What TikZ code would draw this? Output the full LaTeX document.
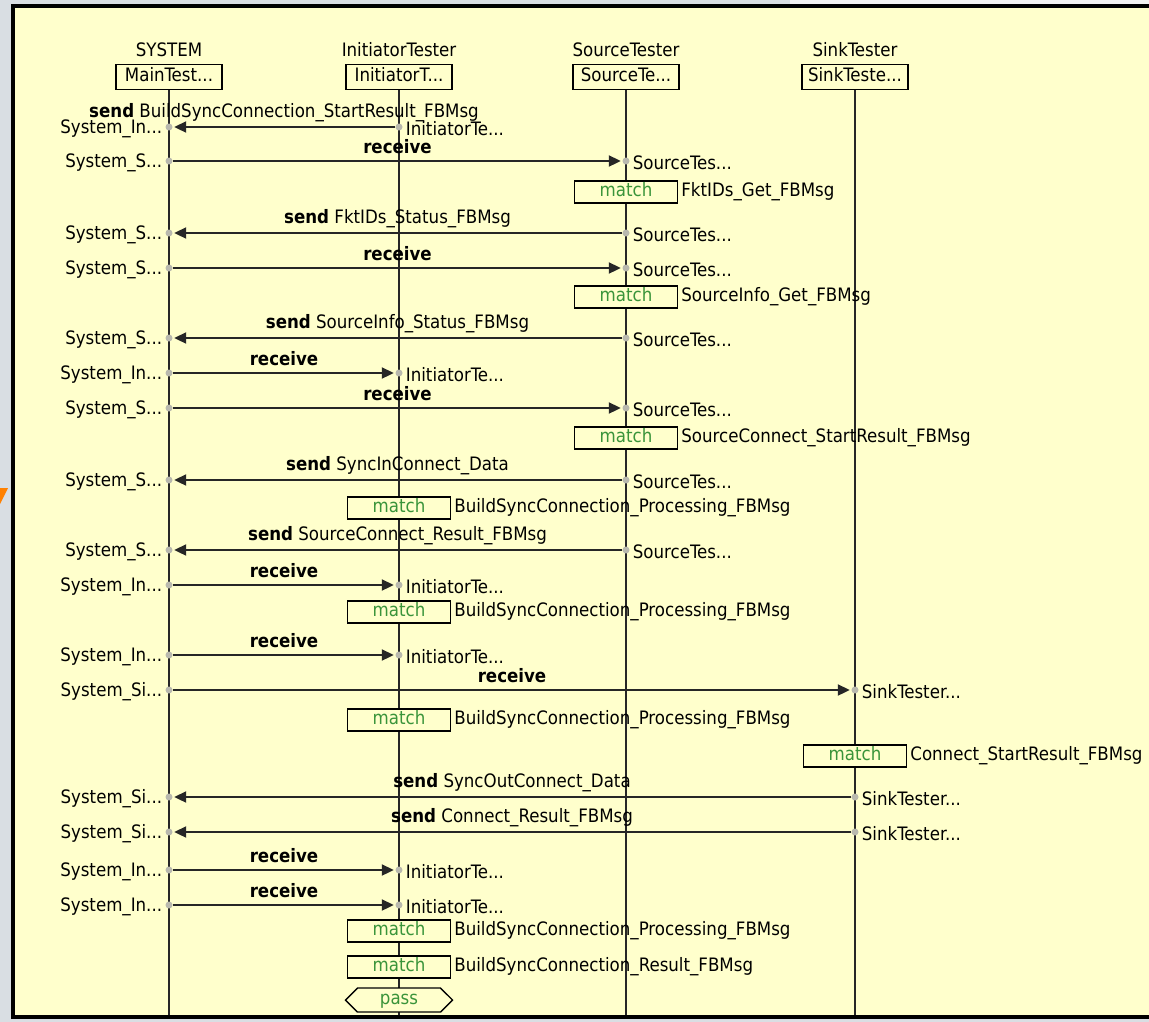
\documentclass[tikz,border=0pt]{standalone}
\usepackage{fontspec}
\setmainfont{DejaVu Sans Condensed}
\usetikzlibrary{arrows.meta,positioning,shapes.symbols}

\definecolor{paper}{HTML}{FFFFCC}
\definecolor{frame}{HTML}{D9DEE3}
\definecolor{matchgreen}{HTML}{3A943A}
\definecolor{dotgrey}{HTML}{B9B9AE}

\begin{document}
\begin{tikzpicture}[x=1pt, y=-1pt,
  lbl/.style={font=\fontsize{18.5}{20}\selectfont, inner sep=0pt, text height=13pt, text depth=4pt},
  head/.style={lbl, draw, fill=paper, line width=1.3pt, minimum width=106pt, minimum height=25pt, inner sep=2pt},
  life/.style={line width=1.7pt, draw=black!85},
  dot/.style={circle, fill=dotgrey, inner sep=0pt, minimum size=7pt},
  msg/.style={line width=2pt, draw=black!85, -{Triangle[length=12pt,width=11pt]}, shorten >=1.5pt},
  matchbox/.style={lbl, draw, fill=paper, line width=1.4pt, text=matchgreen, minimum width=103pt, minimum height=22pt},
  passbox/.style={lbl, signal, signal to=west and east, draw, fill=paper, line width=1.4pt, text=matchgreen, minimum width=107pt, minimum height=24pt}]

\useasboundingbox (0,0) rectangle (1149,1021);

% window frame
\fill[frame] (-5,-5) rectangle (1160,1030);
\fill[black!5] (790,-5) rectangle (1160,4);
\fill[paper] (13,6) rectangle (1160,1017);
\draw[line width=4pt] (13,1019) -- (13,4);
\draw[line width=4pt] (11,6) -- (1160,6);
\draw[line width=4pt] (11,1017) -- (1160,1017);
\fill[orange] (0,488) -- (8,488) -- (0,504) -- cycle;

% instances
\node[lbl] (sysName) at (169,52) {SYSTEM};
\node[lbl] (iniName) at (399,52) {InitiatorTester};
\node[lbl] (srcName) at (626,52) {SourceTester};
\node[lbl] (snkName) at (855,52) {SinkTester};

\node[head] (sys) at (169,77) {MainTest...};
\node[head] (ini) at (399,77) {InitiatorT...};
\node[head] (src) at (626,77) {SourceTe...};
\node[head] (snk) at (855,77) {SinkTeste...};

\coordinate (sysEnd) at (169,1015);
\coordinate (iniEnd) at (399,1015);
\coordinate (srcEnd) at (626,1015);
\coordinate (snkEnd) at (855,1015);

\draw[life] (sys) -- (sysEnd);
\draw[life] (ini) -- (iniEnd);
\draw[life] (src) -- (srcEnd);
\draw[life] (snk) -- (snkEnd);

% send messages (towards SYSTEM)
\foreach \n/\y/\x/\sl/\ol/\txt in {
  1/127/399/In/InitiatorTe/BuildSyncConnection\_StartResult\_FBMsg,
  4/233/626/S/SourceTes/FktIDs\_Status\_FBMsg,
  7/338/626/S/SourceTes/SourceInfo\_Status\_FBMsg,
  11/480/626/S/SourceTes/SyncInConnect\_Data,
  13/550/626/S/SourceTes/SourceConnect\_Result\_FBMsg,
  20/797/855/Si/SinkTester/SyncOutConnect\_Data,
  21/832/855/Si/SinkTester/Connect\_Result\_FBMsg}{
  \node[dot] (s\n) at (169,\y) {};
  \node[dot] (o\n) at (\x,\y) {};
  \draw[msg] (o\n) -- (s\n) node[lbl, midway, above=5pt] (t\n) {\textbf{send} \txt};
  \node[lbl, left=3pt of s\n, yshift=-2pt] (sl\n) {System\_\sl...};
  \node[lbl, right=3pt of o\n, yshift=-4pt] (ol\n) {\ol...};
}

% receive messages (from SYSTEM)
\foreach \n/\y/\x/\sl/\ol in {
  2/161/626/S/SourceTes, 5/268/626/S/SourceTes, 8/373/399/In/InitiatorTe,
  9/408/626/S/SourceTes, 14/585/399/In/InitiatorTe, 16/655/399/In/InitiatorTe,
  17/690/855/Si/SinkTester, 22/870/399/In/InitiatorTe, 23/905/399/In/InitiatorTe}{
  \node[dot] (s\n) at (169,\y) {};
  \node[dot] (o\n) at (\x,\y) {};
  \draw[msg] (s\n) -- (o\n) node[lbl, midway, above=3pt] (t\n) {\textbf{receive}};
  \node[lbl, left=3pt of s\n, yshift=-2pt] (sl\n) {System\_\sl...};
  \node[lbl, right=3pt of o\n, yshift=-4pt] (ol\n) {\ol...};
}

% match steps
\foreach \n/\y/\x/\txt in {
  3/192/626/FktIDs\_Get\_FBMsg,
  6/297/626/SourceInfo\_Get\_FBMsg,
  10/438/626/SourceConnect\_StartResult\_FBMsg,
  12/508/399/BuildSyncConnection\_Processing\_FBMsg,
  15/612/399/BuildSyncConnection\_Processing\_FBMsg,
  18/720/399/BuildSyncConnection\_Processing\_FBMsg,
  19/756/855/Connect\_StartResult\_FBMsg,
  24/931/399/BuildSyncConnection\_Processing\_FBMsg,
  25/967/399/BuildSyncConnection\_Result\_FBMsg}{
  \node[matchbox] (m\n) at (\x,\y) {match};
  \node[lbl, right=3pt of m\n] (mt\n) {\txt};
}

\node[passbox] (pass) at (399,1000) {pass};

\end{tikzpicture}
\end{document}
